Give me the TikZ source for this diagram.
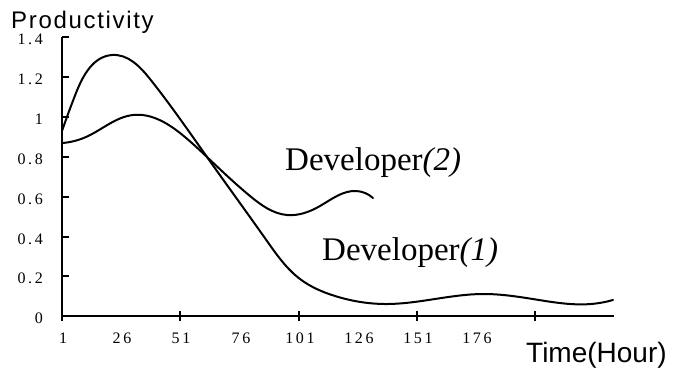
\documentclass[tikz,border=0pt]{standalone}
\usepackage{fontspec}
\usetikzlibrary{hobby}
\setmainfont{Liberation Serif}
\newfontfamily\axissans{Liberation Sans}
\newfontfamily\titlesans[LetterSpace=7]{Liberation Sans}
\newfontfamily\ticksfont[LetterSpace=16]{Liberation Serif}
\begin{document}
\begin{tikzpicture}[x=1pt,y=-1pt,
  curve/.style={line width=2pt, line join=round, line cap=round, use Hobby shortcut},
  axis/.style={line width=1.4pt},
  tickmark/.style={line width=1.2pt},
  ticklabel/.style={font=\ticksfont\fontsize{16}{18}\selectfont, inner sep=0pt},
  curvelabel/.style={font=\fontsize{33}{36}\selectfont, inner sep=0pt, anchor=base west},
  axislabel/.style={inner sep=0pt, anchor=base west}]
\useasboundingbox (0,0) rectangle (677,368);

% axes
\coordinate (origin) at (62,316);
\coordinate (ytop) at (62,37);
\coordinate (ybot) at (62,321);
\coordinate (xend) at (614,316);
\draw[axis] (ybot) -- (ytop);
\draw[axis] (origin) -- (xend);

% y ticks and labels
\foreach \lab/\py [count=\i] in {0/316, 0.2/276, 0.4/237, 0.6/197, 0.8/157, 1/117, 1.2/77, 1.4/37}{
  \ifnum\i>1 \draw[tickmark] (62,\py) -- (69,\py); \fi
  \node[ticklabel, anchor=east] (yl\i) at (43,\py+2) {\lab};
}

% x ticks
\foreach \px in {180,299,417,535}{
  \draw[tickmark] (\px,311) -- (\px,321);
}
% x labels
\foreach \lab/\px [count=\i] in {1/62, 26/121, 51/180, 76/240, 101/299, 126/358, 151/417, 176/476}{
  \node[ticklabel] (xl\i) at (\px+1,338) {\lab};
}

% Developer (1)
\draw[curve] (62,131) .. (76,93) .. (112,55) .. (150,79) .. (207,157)
  .. (267,241) .. (300,279) .. (335,296) .. (385,304) .. (483,294)
  .. (539,300) .. (591,304) .. (613,300);

% Developer (2)
\draw[curve] (62,143) .. (86,137) .. (133,115) .. (180,133) .. (207,157)
  .. (250,196) .. (287,215) .. (320,206) .. (356,191) .. (373,198);

% labels
\node[curvelabel] (dev2) at (285,170) {Developer\textit{(2)}};
\node[curvelabel] (dev1) at (322,260) {Developer\textit{(1)}};
\node[axislabel, font=\titlesans\fontsize{24}{26}\selectfont] (ylabel) at (11,28) {Productivity};
\node[axislabel, font=\axissans\fontsize{28}{30}\selectfont] (xlabel) at (526,362) {Time(Hour)};
\end{tikzpicture}
\end{document}
